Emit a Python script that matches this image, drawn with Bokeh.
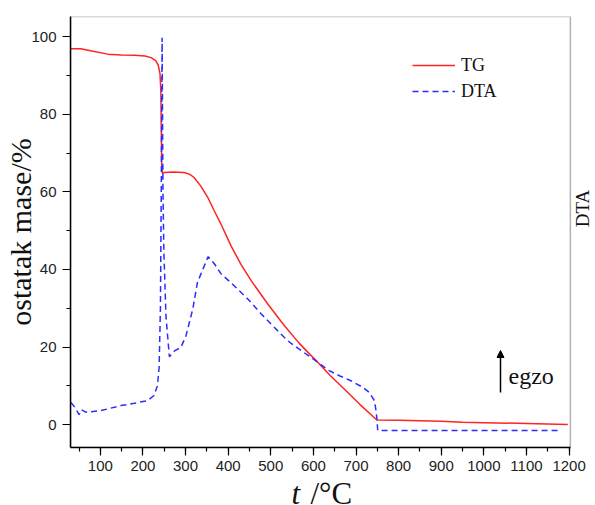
import math
from bokeh.plotting import figure
from bokeh.layouts import column
from bokeh.models import (Range1d, FixedTicker, Label, Legend, LegendItem,
                          Arrow, NormalHead, BoxAnnotation)
from bokeh.embed import file_html
from bokeh.resources import INLINE

# ---- data ----
tg_t = [31, 54, 80, 117, 150, 180, 205, 219, 230, 236, 240, 242, 243, 244, 246,
        250, 270, 297, 310, 320, 335, 352, 367, 383, 407, 430, 454, 493, 532,
        565, 590, 610, 640, 676, 710, 749, 800, 900, 950, 1000, 1100, 1197]
tg_v = [96.9, 96.9, 96.3, 95.5, 95.3, 95.2, 95.0, 94.6, 93.8, 92.6, 90.5, 86.0,
        76.0, 67.0, 64.7, 65.0, 65.1, 65.0, 64.5, 63.7, 61.6, 58.6, 55.2, 51.7,
        46.0, 41.3, 37.1, 31.1, 25.5, 21.2, 18.3, 16.1, 12.6, 8.8, 5.1, 1.2,
        1.1, 0.85, 0.6, 0.5, 0.3, 0.0]

dta_t = [31, 40, 50, 56, 66, 101, 148, 180, 211, 226, 234, 238, 241, 243, 245,
         247, 249, 254, 262, 274, 289, 301, 317, 328, 336, 353, 368, 383, 414,
         446, 477, 508, 540, 571, 610, 637, 661, 688, 716, 731, 743, 747, 749,
         751, 800, 1000, 1177]
dta_v = [5.7, 4.5, 2.6, 3.8, 3.2, 3.6, 4.9, 5.5, 6.2, 7.5, 10.0, 14.8, 30.0,
         60.0, 99.7, 60.0, 45.0, 28.0, 17.5, 19.0, 19.9, 22.9, 29.8, 36.7,
         38.8, 43.3, 41.4, 38.9, 35.8, 32.4, 28.6, 25.1, 21.6, 19.1, 16.1, 13.9,
         12.6, 11.3, 9.6, 8.3, 6.2, 3.6, 1.5, -1.5, -1.5, -1.5, -1.5]

x_ticks = [100, 200, 300, 400, 500, 600, 700, 800, 900, 1000, 1100, 1200]
x_minor = list(range(50, 1201, 50))
y_ticks = [0, 20, 40, 60, 80, 100]
y_minor = [10, 30, 50, 70, 90]

X0, X1 = 30, 1203        # plotted temperature span (boxed area)
Y0, Y1 = -5.9, 105.2     # plotted mass span
X_VIEW_END = 1262        # room to the right of the box for the "DTA" title

RED = "#ff2424"
BLUE = "#2c2cff"
SERIF = "Liberation Serif"
INK = "#111111"

p = figure(width=595, height=480, output_backend="svg", toolbar_location=None,
           title=None,
           x_range=Range1d(X0, X_VIEW_END), y_range=Range1d(Y0, Y1),
           min_border_left=70, min_border_right=0, min_border_top=16,
           min_border_bottom=33)
p.background_fill_color = "white"
p.border_fill_color = "white"
p.outline_line_color = None
p.grid.visible = False

# box around the data area
p.add_layout(BoxAnnotation(left=X0, right=X1, bottom=Y0, top=Y1,
                           fill_alpha=0, fill_color=None,
                           line_color="black", line_width=1.5))

for ax in (p.xaxis[0], p.yaxis[0]):
    ax.axis_line_width = 1.5
    ax.axis_line_color = "black"
    ax.major_tick_in = 0
    ax.major_tick_out = 8
    ax.minor_tick_in = 0
    ax.minor_tick_out = 4
    ax.major_tick_line_width = 1.2
    ax.minor_tick_line_width = 1.2
    ax.major_label_text_font = "Liberation Sans"
    ax.major_label_text_font_size = "15px"
    ax.major_label_text_color = "#222222"
p.xaxis.ticker = FixedTicker(ticks=x_ticks, minor_ticks=x_minor)
p.yaxis.ticker = FixedTicker(ticks=y_ticks, minor_ticks=y_minor)
p.xaxis.bounds = (X0, X1)
p.xaxis.major_label_standoff = 5
p.yaxis.major_label_standoff = 6

p.yaxis.axis_label = "ostatak mase/%"
p.yaxis.axis_label_text_font = SERIF
p.yaxis.axis_label_text_font_size = "30px"
p.yaxis.axis_label_text_font_style = "normal"
p.yaxis.axis_label_text_color = INK
p.yaxis.axis_label_standoff = -9

r_tg = p.line(tg_t, tg_v, line_color=RED, line_width=1.5)
r_dta = p.line(dta_t, dta_v, line_color=BLUE, line_width=1.5, line_dash="6 4")

legend = Legend(items=[LegendItem(label="TG", renderers=[r_tg]),
                       LegendItem(label="DTA", renderers=[r_dta])],
                location=(342, 343), padding=0, margin=0, spacing=0,
                glyph_width=43, glyph_height=26, label_height=26,
                label_standoff=6, border_line_color=None,
                background_fill_alpha=0,
                label_text_font=SERIF,
                label_text_font_size="18px", label_text_color=INK)
p.add_layout(legend)

p.add_layout(Label(x=438, y=72, x_units="screen", y_units="screen",
                   text="egzo", text_align="left", text_baseline="middle",
                   text_font=SERIF, text_font_size="24px", text_color=INK))
p.add_layout(Arrow(end=NormalHead(size=7, fill_color="black",
                                  line_color="black"),
                   x_start=430, y_start=55, x_end=430, y_end=97,
                   start_units="screen", end_units="screen",
                   line_width=1.5, line_color="black"))
# right-hand title of the DTA scale, reading bottom-to-top
p.add_layout(Label(x=512, y=239, x_units="screen", y_units="screen",
                   text="DTA", angle=math.pi / 2, text_align="center",
                   text_baseline="middle", text_font=SERIF,
                   text_font_size="19px", text_color=INK))

# bottom strip carrying the x-axis title "t /°C"
# (its frame is aligned with the main frame, which starts 70px from the left)
s = figure(width=595, height=25, output_backend="svg", toolbar_location=None,
           title=None, x_range=Range1d(0, 595), y_range=Range1d(0, 25),
           x_axis_location=None, y_axis_location=None,
           min_border=0, min_border_left=0, min_border_right=0,
           min_border_top=0, min_border_bottom=0)
s.grid.visible = False
s.outline_line_color = None
s.background_fill_color = "white"
s.border_fill_color = "white"
s.add_layout(Label(x=221, y=12, x_units="screen", y_units="screen",
                   text="t", text_align="left",
                   text_baseline="middle", text_font=SERIF,
                   text_font_size="31px", text_font_style="italic",
                   text_color=INK))
s.add_layout(Label(x=240, y=12, x_units="screen", y_units="screen",
                   text="/°C", text_align="left",
                   text_baseline="middle", text_font=SERIF,
                   text_font_size="31px", text_color=INK))

layout = column(p, s, spacing=0)
open("out.html", "w").write(file_html(layout, INLINE))
